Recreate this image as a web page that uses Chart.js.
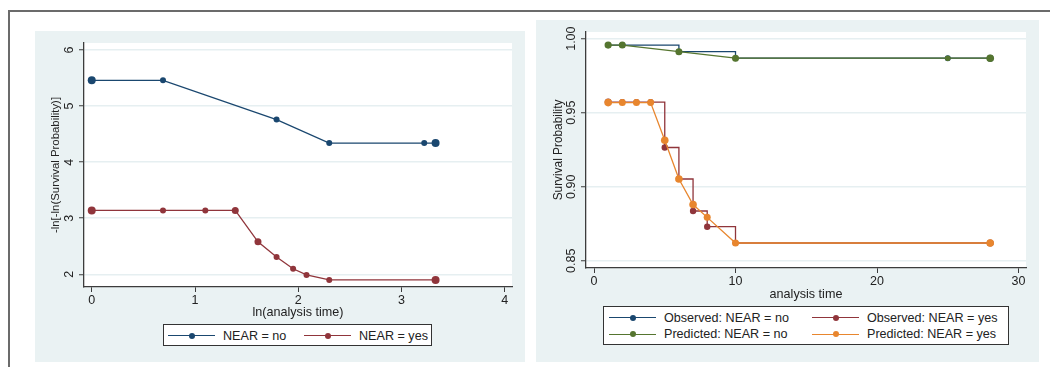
<!DOCTYPE html>
<html>
<head>
<meta charset="utf-8">
<script src="https://cdn.jsdelivr.net/npm/chart.js@4.4.0/dist/chart.umd.min.js"></script>
<style>
body { margin: 0; width: 1050px; height: 367px; background: #fff; position: relative; overflow: hidden; font-family: "Liberation Sans", Arial, sans-serif; }
.frameTop { position: absolute; left: 8px; top: 10px; width: 1042px; height: 2px; background: #6b6b6b; }
.frameLeft { position: absolute; left: 8px; top: 10px; width: 2px; height: 357px; background: #6b6b6b; }
.panel { position: absolute; background: #eaf2f3; }
canvas { position: absolute; left: 0; top: 0; }
.legend { position: absolute; background: #fff; border: 1px solid #333; box-sizing: border-box; font-size: 12.6px; color: #222; }
.legend span { position: absolute; white-space: nowrap; line-height: 14px; }
.legend i { position: absolute; display: block; }
</style>
</head>
<body>
<div class="frameTop"></div>
<div class="frameLeft"></div>
<div class="panel" style="left:35px;top:31px;width:490px;height:331px"></div>
<div class="panel" style="left:536px;top:20px;width:503px;height:342px"></div>
<canvas id="leftChart" width="1050" height="367"></canvas>
<canvas id="rightChart" width="1050" height="367"></canvas>
<div class="legend" id="leftLegend" style="left:163px;top:324px;width:269px;height:22px"></div>
<div class="legend" id="rightLegend" style="left:603px;top:306px;width:406px;height:39px"></div>

<script>
// left panel: -ln[-ln(S)] against ln(time)
const lnTimeNo = [0, 0.69, 1.79, 2.30, 3.22, 3.33];
const lnlnNo = [5.46, 5.46, 4.76, 4.34, 4.34, 4.34];
const lnTimeYes = [0, 0.69, 1.10, 1.39, 1.61, 1.79, 1.95, 2.08, 2.30, 3.33];
const lnlnYes = [3.14, 3.14, 3.14, 3.14, 2.58, 2.31, 2.10, 1.99, 1.90, 1.90];
const leftXTicks = [0, 1, 2, 3, 4];
const leftYTicks = [2, 3, 4, 5, 6];

// right panel: observed vs predicted survival
const timeNo = [1, 2, 6, 10, 25, 28];
const obsNo = [0.9957, 0.9957, 0.9912, 0.9868, 0.9868, 0.9868];
const predNo = [0.9957, 0.9957, 0.9912, 0.9868, 0.9868, 0.9868];
const timeYes = [1, 2, 3, 4, 5, 6, 7, 8, 10, 28];
const obsYes = [0.9572, 0.9572, 0.9572, 0.9572, 0.9265, 0.9052, 0.8836, 0.8730, 0.8620, 0.8620];
const predYes = [0.9568, 0.9568, 0.9568, 0.9568, 0.9314, 0.9052, 0.8880, 0.8793, 0.8620, 0.8620];
const rightXTicks = [0, 10, 20, 30];
const rightYTicks = [0.85, 0.90, 0.95, 1.00];

const NAVY = '#1a476f';
const MAROON = '#90353b';
const GREEN = '#55752f';
const ORANGE = '#e8862e';

Chart.defaults.font.family = '"Liberation Sans", Arial, sans-serif';
Chart.defaults.color = '#222';

function pts(xs, ys) {
    return xs.map((x, i) => ({ x: x, y: ys[i] }));
}

function setTicks(values) {
    return scale => { scale.ticks = values.map(v => ({ value: v })); };
}

// white plot region behind the grid
const plotBg = {
    id: 'plotBg',
    beforeDraw(chart) {
        const a = chart.chartArea;
        const ctx = chart.ctx;
        ctx.save();
        ctx.fillStyle = '#fff';
        ctx.fillRect(a.left, a.top, a.right - a.left, a.bottom - a.top);
        ctx.restore();
    }
};

function line(label, data, color, radius, stepped) {
    return {
        label: label,
        data: data,
        borderColor: color,
        backgroundColor: color,
        pointBackgroundColor: color,
        pointBorderColor: color,
        borderWidth: 1.3,
        pointRadius: radius,
        pointBorderWidth: 0,
        stepped: stepped || false,
        tension: 0
    };
}

function xAxis(ticks, min, max, title, height, titlePad) {
    return {
        type: 'linear', min: min, max: max,
        afterBuildTicks: setTicks(ticks),
        afterFit: s => { s.height = height; },
        grid: { drawOnChartArea: false, tickLength: 5, tickColor: '#3c3c3c', tickWidth: 1 },
        border: { color: '#3c3c3c', width: 1.3 },
        ticks: { font: { size: 12.5 }, color: '#222', padding: 1.2, maxRotation: 0, autoSkip: false },
        title: { display: true, text: title, font: { size: 12.6 }, color: '#222', padding: { top: 0, bottom: titlePad } }
    };
}

function yAxis(ticks, min, max, title, width, titleSize, titlePad, tickPad) {
    return {
        type: 'linear', min: min, max: max,
        afterBuildTicks: setTicks(ticks),
        afterFit: s => { s.width = width; },
        grid: { color: '#e6eff1', lineWidth: 1.5, tickLength: 5, tickColor: '#3c3c3c', tickWidth: 1 },
        border: { color: '#3c3c3c', width: 1.3 },
        ticks: { font: { size: 12.5 }, color: '#222', padding: tickPad, minRotation: 90, maxRotation: 90,
                 crossAlign: 'center', autoSkip: false,
                 callback: v => ticks === rightYTicks ? v.toFixed(2) : String(v) },
        title: { display: true, text: title, font: { size: titleSize }, color: '#222', padding: { top: titlePad, bottom: 0 } }
    };
}

const common = {
    responsive: false,
    animation: false,
    devicePixelRatio: 1,
    plugins: { legend: { display: false }, tooltip: { enabled: false } },
    events: []
};

new Chart(document.getElementById('leftChart'), {
    type: 'line',
    data: {
        datasets: [
            line('NEAR = yes', pts(lnTimeYes, lnlnYes), MAROON, [4, 3, 3, 3.5, 3.5, 3, 3, 3, 3, 4]),
            line('NEAR = no', pts(lnTimeNo, lnlnNo), NAVY, [4, 3, 3, 3, 3, 4])
        ]
    },
    options: Object.assign({}, common, {
        layout: { padding: { left: 40, top: 43, right: 538, bottom: 40 } },
        scales: {
            x: xAxis(leftXTicks, -0.075, 4.07, 'ln(analysis time)', 40, 7.4),
            y: yAxis(leftYTicks, 1.774, 6.125, '-ln[-ln(Survival Probability)]', 44, 11.4, 9, 5.8)
        }
    }),
    plugins: [plotBg]
});

new Chart(document.getElementById('rightChart'), {
    type: 'line',
    data: {
        datasets: [
            line('Predicted: NEAR = yes', pts(timeYes, predYes), ORANGE, [3.8, 3.5, 3.5, 3.5, 3.8, 3.8, 3.8, 3.5, 3.5, 3.8]),
            line('Predicted: NEAR = no', pts(timeNo, predNo), GREEN, [3.6, 3.5, 3.5, 3.5, 2.8, 3.8]),
            line('Observed: NEAR = yes', pts(timeYes, obsYes), MAROON, [3.5, 3, 3, 3, 3.2, 3, 3.2, 3.2, 3, 3.5], true),
            line('Observed: NEAR = no', pts(timeNo, obsNo), NAVY, [3, 3, 3, 3, 3, 3.5], true)
        ]
    },
    options: Object.assign({}, common, {
        layout: { padding: { left: 540, top: 32, right: 24, bottom: 59 } },
        scales: {
            x: xAxis(rightXTicks, -0.566, 30.53, 'analysis time', 40, 6.4),
            y: yAxis(rightYTicks, 0.8451, 1.0045, 'Survival Probability', 46, 11.85, 11.2, -2.5)
        }
    }),
    plugins: [plotBg]
});

// legends: line + marker symbol and label
function legendItem(box, left, centerY, label, color) {
    const ln = document.createElement('i');
    ln.style.cssText = `left:${left}px;top:${centerY - 0.65}px;width:47px;height:1.3px;background:${color}`;
    const dot = document.createElement('i');
    dot.style.cssText = `left:${left + 20.5}px;top:${centerY - 3}px;width:6px;height:6px;border-radius:50%;background:${color}`;
    const txt = document.createElement('span');
    txt.textContent = label;
    txt.style.left = (left + 55) + 'px';
    txt.style.top = (centerY - 7) + 'px';
    box.appendChild(ln);
    box.appendChild(dot);
    box.appendChild(txt);
}

const leftLegend = document.getElementById('leftLegend');
legendItem(leftLegend, 4, 10.7, 'NEAR = no', NAVY);
legendItem(leftLegend, 140, 10.7, 'NEAR = yes', MAROON);

const rightLegend = document.getElementById('rightLegend');
legendItem(rightLegend, 5, 10.7, 'Observed: NEAR = no', NAVY);
legendItem(rightLegend, 208, 10.7, 'Observed: NEAR = yes', MAROON);
legendItem(rightLegend, 5, 27.3, 'Predicted: NEAR = no', GREEN);
legendItem(rightLegend, 208, 27.3, 'Predicted: NEAR = yes', ORANGE);
</script>
</body>
</html>
